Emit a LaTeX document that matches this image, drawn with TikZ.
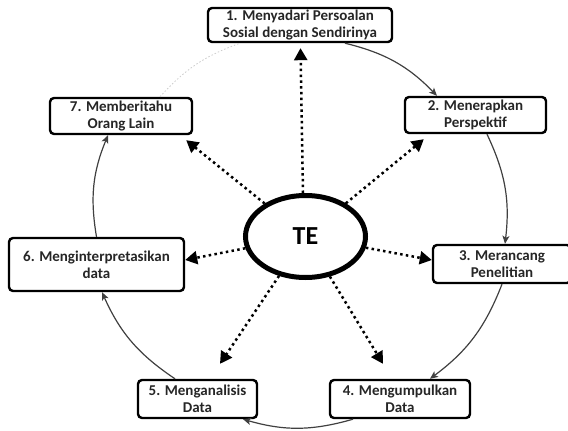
\documentclass[tikz,border=0pt]{standalone}
\usepackage{fontspec}
\setmainfont{Carlito}
\usetikzlibrary{arrows.meta,shapes.geometric}

\tikzset{
  stage/.style={draw=black, line width=2.4pt, rounded corners=4pt, fill=white,
    align=center, inner sep=0pt, font=\bfseries\fontsize{15}{17}\selectfont,
    text=black!85},
  core/.style={ellipse, draw=black, line width=5pt, fill=white, inner sep=0pt,
    minimum width=120pt, minimum height=82pt,
    font=\bfseries\fontsize{26}{28}\selectfont},
  ray/.style={line width=2.5pt, dash pattern=on 2.5pt off 3.3pt,
    -{Triangle[length=12pt,width=13pt]}},
  cycle/.style={draw=black!75, line width=1.2pt,
    -{Stealth[length=8pt,width=7pt,inset=2pt]}, bend left=16},
  faint/.style={draw=black!20, line width=0.8pt, dash pattern=on 1.5pt off 2pt, bend left=14}
}

\begin{document}
\begin{tikzpicture}[x=1pt,y=1pt]
  \useasboundingbox (0,0) rectangle (568,-431);

  % stage boxes
  \node[stage, minimum width=184pt, minimum height=34pt] (b1) at (300,-25)
    {1. Menyadari Persoalan\\Sosial dengan Sendirinya};
  \node[stage, minimum width=141pt, minimum height=36pt] (b2) at (475.5,-115)
    {2. Menerapkan\\Perspektif};
  \node[stage, minimum width=138pt, minimum height=38pt] (b3) at (502,-264)
    {3. Merancang\\Penelitian};
  \node[stage, minimum width=140pt, minimum height=38pt] (b4) at (400,-399)
    {4. Mengumpulkan\\Data};
  \node[stage, minimum width=119pt, minimum height=38pt] (b5) at (197.5,-399)
    {5. Menganalisis\\Data};
  \node[stage, minimum width=175pt, minimum height=53pt] (b6) at (96.5,-264.5)
    {6. Menginterpretasikan\\data};
  \node[stage, minimum width=142pt, minimum height=36pt] (b7) at (121,-116)
    {7. Memberitahu\\Orang Lain};

  % centre
  \node[core] (te) at (305.5,-236.5) {TE};

  % cycle around the stages
  \draw[cycle] ([xshift=45pt]b1.south) to ([xshift=-38.5pt]b2.north);
  \draw[cycle] ([xshift=11.5pt]b2.south) to ([xshift=3pt]b3.north);
  \draw[cycle] (b3.south) to ([xshift=30pt]b4.north);
  \draw[cycle] ([xshift=-47pt]b4.south) to ([xshift=45.5pt]b5.south);
  \draw[cycle] ([xshift=-22.5pt]b5.north) to ([xshift=5.5pt]b6.south);
  \draw[cycle] (b6.north) to ([xshift=-13pt]b7.south);
  \draw[faint] ([xshift=39pt]b7.north) to ([xshift=-60pt]b1.south);

  % rays from the centre
  \draw[ray] ([xshift=-2.5pt]te.north) -- ([xshift=0.5pt,yshift=-5pt]b1.south);
  \draw[ray] (te) -- ([shift={(20pt,-5pt)}]b2.south west);
  \draw[ray] (te) -- ([yshift=4pt]b3.west);
  \draw[ray] (te) -- ([shift={(-17pt,15pt)}]b4.north);
  \draw[ray] (te) -- ([shift={(22.5pt,15pt)}]b5.north);
  \draw[ray] (te) -- ([yshift=4.5pt]b6.east);
  \draw[ray] (te) -- ([shift={(-7pt,-5pt)}]b7.south east);
\end{tikzpicture}
\end{document}
